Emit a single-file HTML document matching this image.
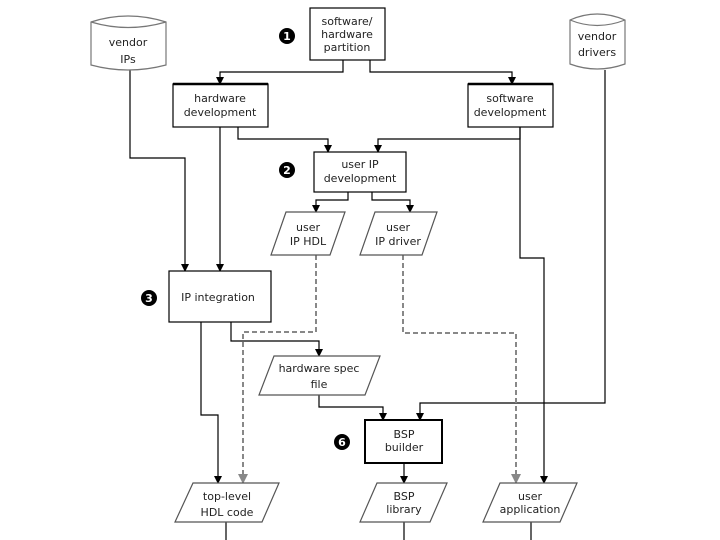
<!DOCTYPE html>
<html><head><style>body{margin:0;background:#fff}svg{display:block}text{font-family:"DejaVu Sans","Liberation Sans",sans-serif;font-size:11px;fill:#222;text-anchor:middle}</style></head><body>
<svg width="720" height="540" viewBox="0 0 720 540">
<defs>
<marker id="a" markerWidth="8" markerHeight="8" refX="4" refY="7" markerUnits="userSpaceOnUse"><path d="M0,0 L8,0 L4,8z" fill="#000"/></marker>
<marker id="g" markerWidth="10" markerHeight="10" refX="5" refY="9" markerUnits="userSpaceOnUse"><path d="M0,0 L10,0 L5,10z" fill="#888"/></marker>
</defs>
<g fill="none" stroke="#000" stroke-width="1.2">
<polyline points="343,60 343,72 220,72 220,84" marker-end="url(#a)"/>
<polyline points="370,60 370,72 512,72 512,84" marker-end="url(#a)"/>
<polyline points="238,127 238,139 328,139 328,152" marker-end="url(#a)"/>
<polyline points="520,127 520,139 378,139 378,152" marker-end="url(#a)"/>
<polyline points="348,192 348,200 316,200 316,212" marker-end="url(#a)"/>
<polyline points="372,192 372,200 410,200 410,212" marker-end="url(#a)"/>
<polyline points="130,70 130,158 185,158 185,271" marker-end="url(#a)"/>
<polyline points="220,127 220,271" marker-end="url(#a)"/>
<polyline points="520,127 520,258 544,258 544,483" marker-end="url(#a)"/>
<polyline points="201,322 201,415 218,415 218,483" marker-end="url(#a)"/>
<polyline points="231,322 231,341 319,341 319,356" marker-end="url(#a)"/>
<polyline points="319,395 319,407 383,407 383,420" marker-end="url(#a)"/>
<polyline points="605,70 605,403 420,403 420,420" marker-end="url(#a)"/>
<polyline points="404,463 404,483" marker-end="url(#a)"/>
<line x1="226" y1="522" x2="226" y2="540"/><line x1="404" y1="522" x2="404" y2="540"/><line x1="531" y1="522" x2="531" y2="540"/>
</g>
<g fill="none" stroke="#888" stroke-width="2" stroke-dasharray="5,3">
<polyline points="316,255 316,332 243,332 243,483" marker-end="url(#g)"/>
<polyline points="403,255 403,333 516,333 516,483" marker-end="url(#g)"/>
</g>
<g stroke="#000" stroke-width="1.2" fill="#fff">
<rect x="310" y="8" width="75" height="52"/>
<rect x="173" y="84" width="95" height="43"/><line x1="173" y1="84" x2="268" y2="84" stroke-width="2.5"/>
<rect x="468" y="84" width="85" height="43"/><line x1="468" y1="84" x2="553" y2="84" stroke-width="2.5"/>
<rect x="314" y="152" width="92" height="40"/>
<rect x="169" y="271" width="102" height="51"/>
<rect x="365" y="420" width="77" height="43" stroke-width="2"/>
</g>
<g stroke="#777" stroke-width="1.2" fill="#fff">
<path d="M91,22 Q128,10 166,22 L166,65 Q128,75 91,65z"/><path d="M91,22 Q128,33 166,22" fill="none"/>
<path d="M570,20 Q597,8 625,20 L625,64 Q597,74 570,64z"/><path d="M570,20 Q597,31 625,20" fill="none"/>
</g>
<g stroke="#555" stroke-width="1.2" fill="#fff">
<polygon points="286,212 345,212 330,255 271,255"/>
<polygon points="375,212 437,212 422,255 360,255"/>
<polygon points="274,356 380,356 365,395 259,395"/>
<polygon points="193,483 279,483 262,522 175,522"/>
<polygon points="377,483 447,483 430,522 360,522"/>
<polygon points="500,483 577,483 560,522 483,522"/>
</g>
<g fill="#000"><circle cx="287" cy="36" r="8"/><circle cx="287" cy="170" r="8"/><circle cx="149" cy="298" r="8"/><circle cx="342" cy="442" r="8"/></g>
<g style="font-weight:bold;font-size:10px"><text x="287" y="40" style="fill:#fff">1</text><text x="287" y="174" style="fill:#fff">2</text><text x="149" y="302" style="fill:#fff">3</text><text x="342" y="446" style="fill:#fff">6</text></g>
<text x="128" y="46">vendor</text><text x="128" y="63">IPs</text>
<text x="597" y="40">vendor</text><text x="597" y="56">drivers</text>
<text x="347" y="25">software/</text><text x="347" y="38">hardware</text><text x="347" y="51">partition</text>
<text x="220" y="102">hardware</text><text x="220" y="116">development</text>
<text x="510" y="102">software</text><text x="510" y="116">development</text>
<text x="360" y="168">user IP</text><text x="360" y="182">development</text>
<text x="308" y="231">user</text><text x="308" y="245">IP HDL</text>
<text x="398" y="231">user</text><text x="398" y="245">IP driver</text>
<text x="218" y="301">IP integration</text>
<text x="319" y="372">hardware spec</text><text x="319" y="388">file</text>
<text x="404" y="438">BSP</text><text x="404" y="451">builder</text>
<text x="227" y="500">top-level</text><text x="227" y="516">HDL code</text>
<text x="404" y="500">BSP</text><text x="404" y="513">library</text>
<text x="530" y="500">user</text><text x="530" y="513">application</text>
</svg>
</body></html>
